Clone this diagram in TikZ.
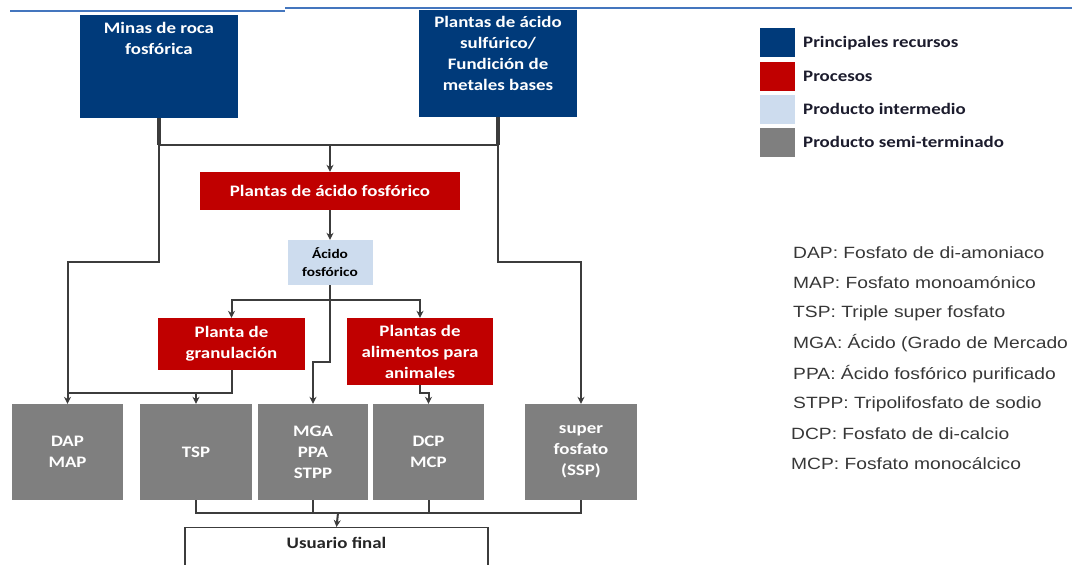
\documentclass[tikz,border=0pt]{standalone}
\usepackage{fontspec}
\newfontfamily\calb[FakeStretch=1.18]{Carlito}
\newfontfamily\arialf[FakeStretch=1.18]{Liberation Sans}
\usetikzlibrary{arrows.meta,positioning,calc}
\definecolor{azulrec}{RGB}{0,58,122}
\definecolor{rojoproc}{RGB}{192,0,0}
\definecolor{celeste}{RGB}{205,220,238}
\definecolor{grisprod}{RGB}{127,127,127}
\definecolor{gristrazo}{RGB}{60,60,60}
\definecolor{azullinea}{RGB}{68,118,190}
\definecolor{textoley}{RGB}{28,28,45}
\definecolor{textosig}{RGB}{55,55,55}

\begin{document}
\begin{tikzpicture}[x=1pt,y=-1pt,
    recurso/.style={fill=azulrec,text=white,inner sep=0pt,minimum width=158pt,font=\calb\bfseries\fontsize{16}{21}\selectfont},
    proceso/.style={fill=rojoproc,text=white,inner sep=0pt,align=center,font=\calb\bfseries\fontsize{16}{21}\selectfont},
    intermedio/.style={fill=celeste,text=black,inner sep=0pt,align=center,font=\calb\bfseries\fontsize{13}{18}\selectfont},
    producto/.style={fill=grisprod,text=white,inner sep=0pt,align=center,minimum width=111pt,minimum height=96pt,font=\calb\bfseries\fontsize{16}{21}\selectfont},
    final/.style={draw=gristrazo,line width=1.4pt,fill=white,text=black!85,inner sep=5pt,minimum width=303pt,font=\calb\bfseries\fontsize{16}{21}\selectfont},
    cuadro/.style={inner sep=0pt,minimum width=35pt,minimum height=29pt},
    leyenda/.style={anchor=west,inner sep=0pt,text=textoley,font=\calb\bfseries\fontsize{16}{21}\selectfont},
    sigla/.style={anchor=west,inner sep=0pt,text=textosig,font=\arialf\fontsize{16.3}{20}\selectfont},
    conector/.style={draw=gristrazo,line width=2pt},
    flecha/.style={conector,-{Stealth[length=7pt,width=7pt]}},
    union/.style={draw=gristrazo,line width=3.6pt}
  ]
    \useasboundingbox (0,0) rectangle (1072,565);

    % Linea azul superior
    \draw[azullinea,line width=2.2pt] (10,11) -- (285,11);
    \draw[azullinea,line width=2.2pt] (285,8) -- (1072,8);

    % Recursos principales
    \node[recurso] (minas) at (159,66.5) {\parbox[c][103pt][t]{150pt}{\centering\vspace*{7pt}Minas de roca\\fosfórica}};
    \node[recurso] (sulf) at (498,63.5) {\parbox[c][107pt][t]{150pt}{\centering\vspace*{6pt}Plantas de ácido\\sulfúrico/\\Fundición de\\metales bases}};

    % Procesos e intermedio
    \node[proceso,minimum width=260pt,minimum height=38pt] (fosforico) at (330,191) {Plantas de ácido fosfórico};
    \node[intermedio,minimum width=85pt,minimum height=45pt] (acido) at (330,262.5) {Ácido\\fosfórico};
    \node[proceso,minimum width=147pt,minimum height=52pt] (granul) at (231.5,344) {Planta de\\granulación};
    \node[proceso,minimum width=146pt,minimum height=67pt] (alim) at (420,351.5) {Plantas de\\alimentos para\\animales};

    % Productos semi-terminados
    \node[producto] (dapmap) at (67.5,452) {DAP\\MAP};
    \node[producto,minimum width=112pt] (tsp) at (196,452) {TSP};
    \node[producto,minimum width=110pt] (mga) at (313,452) {MGA\\PPA\\STPP};
    \node[producto] (dcp) at (428.5,452) {DCP\\MCP};
    \node[producto,minimum width=112pt] (ssp) at (581,452) {super\\fosfato\\(SSP)};

    % Usuario final
    \node[final,anchor=north,text height=16pt,text depth=30pt] (usuario) at (336.5,527) {Usuario final};

    % Conexiones desde los recursos
    \coordinate (j1) at (330,145);
    \draw[union] (minas.south) -- (minas.south |- j1);
    \draw[union] (sulf.south) -- (sulf.south |- j1);
    \draw[conector,line width=2.6pt] (minas.south |- j1) -- (sulf.south |- j1);
    \draw[flecha] (j1) -- (fosforico.north);
    \draw[flecha] (fosforico.south) -- (acido.north);
    \coordinate (l1) at (159,262);
    \coordinate (r1) at (498,262);
    \draw[flecha] (minas.south |- j1) -- (l1) -| (dapmap.north);
    \draw[flecha] (sulf.south |- j1) -- (r1) -| (ssp.north);

    % Acido fosforico hacia las plantas
    \coordinate (j2) at (330,300);
    \draw[conector] (acido.south) -- (j2);
    \draw[flecha] (j2) -| (granul.north);
    \draw[flecha] (j2) -| (alim.north);
    \coordinate (m1) at (330,362);
    \draw[flecha] (j2) -- (m1) -| (mga.north);

    % Plantas hacia productos
    \coordinate (g1) at (231.5,393);
    \draw[conector] (granul.south) -- (g1) -- (g1 -| dapmap.north);
    \draw[flecha] (g1 -| tsp.north) -- (tsp.north);
    \coordinate (a1) at (420,393);
    \draw[flecha] (alim.south) -- (a1) -| (dcp.north);

    % Productos hacia el usuario final
    \coordinate (b1) at (338,513);
    \draw[conector] (tsp.south) |- (b1 -| ssp.south) -- (ssp.south);
    \draw[conector] (mga.south) -- (mga.south |- b1);
    \draw[conector] (dcp.south) -- (dcp.south |- b1);
    \draw[flecha] (b1) -- (usuario.north);

    % Leyenda de colores
    \node[cuadro,fill=azulrec] (lrec) at (777.5,42.5) {};
    \node[leyenda] (trec) at (803,43) {Principales recursos};
    \node[cuadro,fill=rojoproc] (lproc) at (777.5,76.5) {};
    \node[leyenda] (tproc) at (803,76) {Procesos};
    \node[cuadro,fill=celeste] (lint) at (777.5,109.5) {};
    \node[leyenda] (tint) at (803,109) {Producto intermedio};
    \node[cuadro,fill=grisprod] (lsemi) at (777.5,142.5) {};
    \node[leyenda] (tsemi) at (803,142) {Producto semi-terminado};

    % Siglas
    \node[sigla] (sdap) at (793,253) {DAP: Fosfato de di-amoniaco};
    \node[sigla] (smap) at (793,283) {MAP: Fosfato monoamónico};
    \node[sigla] (stsp) at (793,313) {TSP: Triple super fosfato};
    \node[sigla] (smga) at (793,343) {MGA: Ácido (Grado de Mercado};
    \node[sigla] (sppa) at (793,374) {PPA: Ácido fosfórico purificado};
    \node[sigla] (sstpp) at (793,404) {STPP: Tripolifosfato de sodio};
    \node[sigla] (sdcp) at (791,434) {DCP: Fosfato de di-calcio};
    \node[sigla] (smcp) at (791,464) {MCP: Fosfato monocálcico};
  \end{tikzpicture}
\end{document}
